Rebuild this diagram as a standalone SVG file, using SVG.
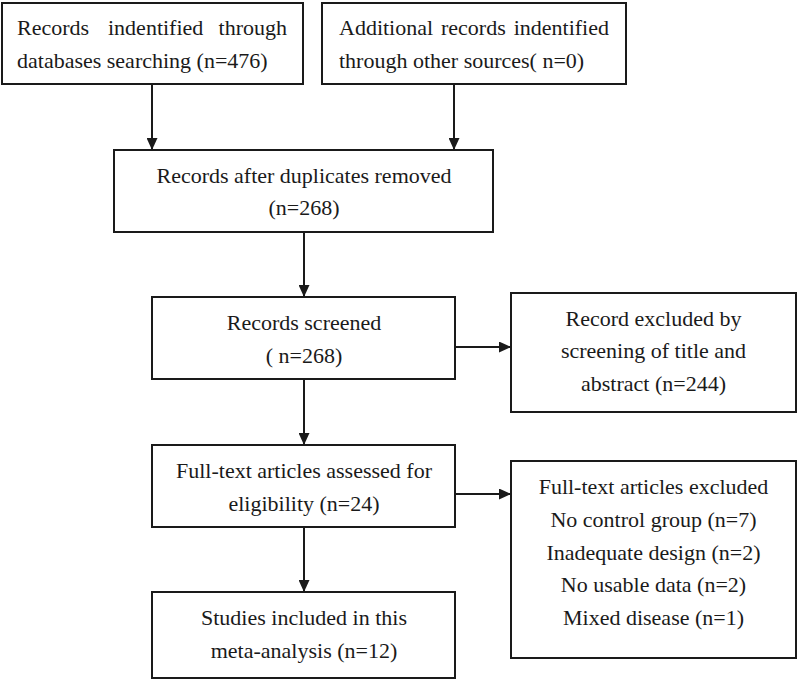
<svg xmlns="http://www.w3.org/2000/svg" width="800" height="682" viewBox="0 0 800 682">
<style>
.box{fill:#fff;stroke:#1a1a1a;stroke-width:2}
.t{font-family:"Liberation Serif","Times New Roman",serif;font-size:22px;fill:#1a1a1a}
.c{text-anchor:middle}
.e{text-anchor:end}
.ln{stroke:#1a1a1a;stroke-width:2;fill:none;marker-end:url(#ah)}
</style>
<defs>
<marker id="ah" markerUnits="userSpaceOnUse" markerWidth="12" markerHeight="11" refX="12" refY="5.5" orient="auto">
<path d="M0,0 L12,5.5 L0,11 Z" fill="#1a1a1a"/>
</marker>
</defs>
<rect x="0" y="0" width="800" height="682" fill="#fff"/>
<g id="connectors">
<line class="ln" x1="152" y1="84" x2="152" y2="150"/>
<line class="ln" x1="454" y1="84" x2="454" y2="150"/>
<line class="ln" x1="304" y1="232" x2="304" y2="297"/>
<line class="ln" x1="304" y1="379" x2="304" y2="445"/>
<line class="ln" x1="455" y1="347" x2="511" y2="347"/>
<line class="ln" x1="304" y1="527" x2="304" y2="592"/>
<line class="ln" x1="455" y1="494" x2="511" y2="494"/>
</g>
<g id="n1">
<rect class="box" x="2" y="3" width="301" height="81"/>
<text class="t" x="17" y="35">Records</text>
<text class="t" x="108" y="35">indentified</text>
<text class="t e" x="287" y="35">through</text>
<text class="t" x="17" y="68">databases searching (n=476)</text>
</g>
<g id="n2">
<rect class="box" x="322" y="3" width="304" height="81"/>
<text class="t" x="339" y="35">Additional</text>
<text class="t" x="441" y="35">records</text>
<text class="t e" x="609" y="35">indentified</text>
<text class="t" x="339" y="68">through other sources( n=0)</text>
</g>
<g id="n3">
<rect class="box" x="114" y="150" width="379" height="82"/>
<text class="t c" x="304" y="183">Records after duplicates removed</text>
<text class="t c" x="304" y="215">(n=268)</text>
</g>
<g id="n4">
<rect class="box" x="152" y="297" width="303" height="82"/>
<text class="t c" x="304" y="330">Records screened</text>
<text class="t c" x="304" y="363">( n=268)</text>
</g>
<g id="n5">
<rect class="box" x="511" y="293" width="285" height="119"/>
<text class="t c" x="653.5" y="326">Record excluded by</text>
<text class="t c" x="653.5" y="358">screening of title and</text>
<text class="t c" x="653.5" y="391">abstract (n=244)</text>
</g>
<g id="n6">
<rect class="box" x="152" y="445" width="303" height="82"/>
<text class="t c" x="304" y="478">Full-text articles assessed for</text>
<text class="t c" x="304" y="511">eligibility (n=24)</text>
</g>
<g id="n7">
<rect class="box" x="152" y="592" width="303" height="86"/>
<text class="t c" x="304" y="625">Studies included in this</text>
<text class="t c" x="304" y="658">meta-analysis (n=12)</text>
</g>
<g id="n8">
<rect class="box" x="511" y="461" width="285" height="197"/>
<text class="t c" x="653.5" y="494">Full-text articles excluded</text>
<text class="t c" x="653.5" y="527">No control group (n=7)</text>
<text class="t c" x="653.5" y="560">Inadequate design (n=2)</text>
<text class="t c" x="653.5" y="592">No usable data (n=2)</text>
<text class="t c" x="653.5" y="625">Mixed disease (n=1)</text>
</g>
</svg>
